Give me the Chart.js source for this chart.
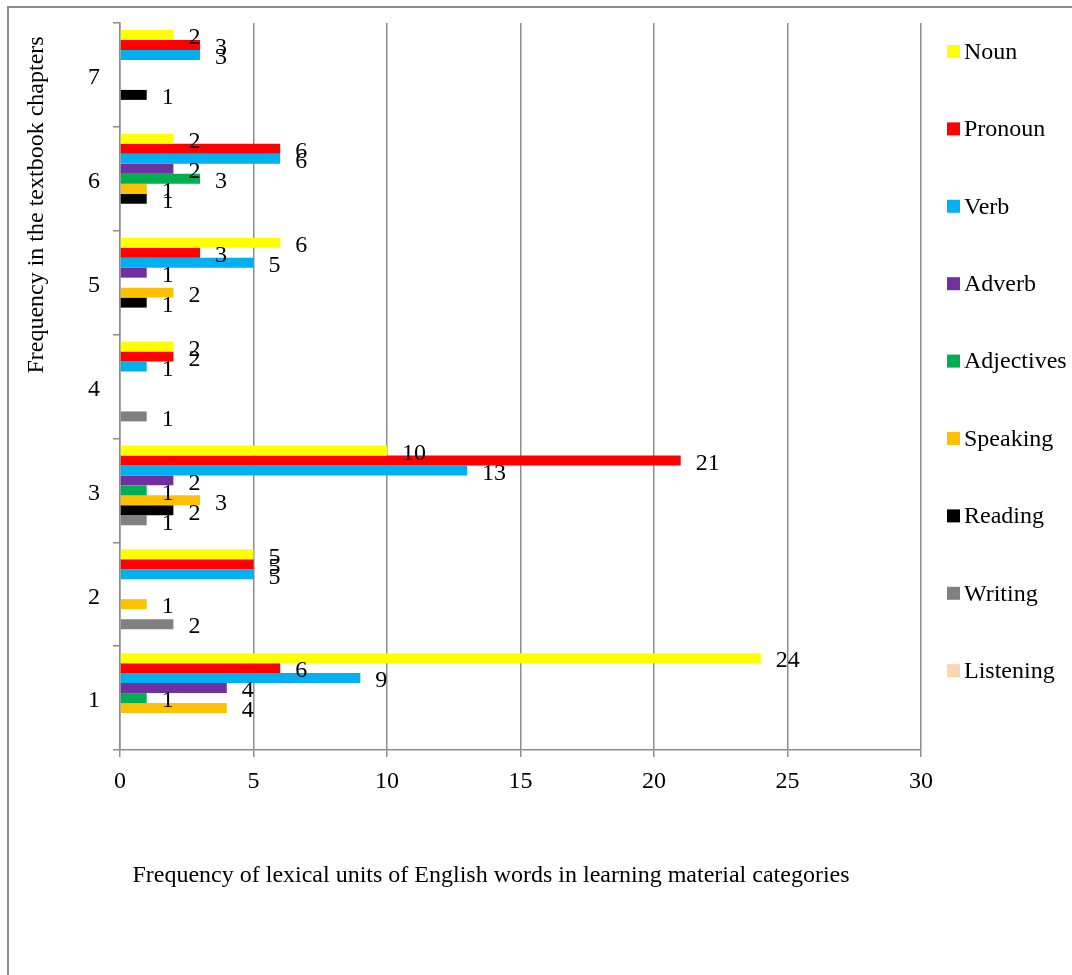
<!DOCTYPE html>
<html>
<head>
<meta charset="utf-8">
<script src="https://cdn.jsdelivr.net/npm/chart.js@4"></script>
<style>
  body { margin: 0; background: #fff; }
  canvas { display: block; }
</style>
</head>
<body>
<canvas id="chart" width="1072" height="975"></canvas>
<script>
// chapters listed bottom to top, as in the textbook
const chapters = ["1", "2", "3", "4", "5", "6", "7"];

// counts per chapter (chapter 1 .. chapter 7)
const noun       = [24, 5, 10, 2, 6, 2, 2];
const pronoun    = [6, 5, 21, 2, 3, 6, 3];
const verb       = [9, 5, 13, 1, 5, 6, 3];
const adverb     = [4, 0, 2, 0, 1, 2, 0];
const adjectives = [1, 0, 1, 0, 0, 3, 0];
const speaking   = [4, 1, 3, 0, 2, 1, 0];
const reading    = [0, 0, 2, 0, 1, 1, 1];
const writing    = [0, 2, 1, 1, 0, 0, 0];
const listening  = [0, 0, 0, 0, 0, 0, 0];

const xTicks = [0, 5, 10, 15, 20, 25, 30];

const xTitle = "Frequency of lexical units of English words in learning material categories";
const yTitle = "Frequency in the textbook chapters";

const FONT = "'Liberation Serif', 'Times New Roman', serif";
const GRID = "#8c8c8c";

const series = [
  { name: "Noun", data: noun, color: "#ffff00" },
  { name: "Pronoun", data: pronoun, color: "#ff0000" },
  { name: "Verb", data: verb, color: "#00b0f0" },
  { name: "Adverb", data: adverb, color: "#7030a0" },
  { name: "Adjectives", data: adjectives, color: "#00b050" },
  { name: "Speaking", data: speaking, color: "#ffc000" },
  { name: "Reading", data: reading, color: "#000000" },
  { name: "Writing", data: writing, color: "#808080" },
  { name: "Listening", data: listening, color: "#fbd4b4" },
];

// chapter 7 goes on top, so feed categories in reverse
const datasets = series.map((s) => ({
  label: s.name,
  data: s.data.slice().reverse(),
  backgroundColor: s.color,
  borderWidth: 0,
  categoryPercentage: 0.865,
  barPercentage: 1.0,
}));

// white page with the grey frame round it
const framePlugin = {
  id: "frame",
  beforeDraw(chart) {
    const ctx = chart.ctx;
    ctx.save();
    ctx.fillStyle = "#fff";
    ctx.fillRect(0, 0, chart.width, chart.height);
    ctx.strokeStyle = GRID;
    ctx.lineWidth = 2;
    ctx.strokeRect(8, 7, chart.width + 20, chart.height + 20);
    ctx.restore();
  },
};

// value next to the end of every non-zero bar
const valueLabels = {
  id: "valueLabels",
  afterDatasetsDraw(chart) {
    const ctx = chart.ctx;
    ctx.save();
    ctx.font = "24px " + FONT;
    ctx.fillStyle = "#000";
    ctx.textAlign = "left";
    ctx.textBaseline = "middle";
    chart.data.datasets.forEach((ds, i) => {
      const meta = chart.getDatasetMeta(i);
      meta.data.forEach((bar, j) => {
        const v = ds.data[j];
        if (!v) return;
        ctx.fillText(String(v), bar.x + 15, bar.y + 3);
      });
    });
    ctx.restore();
  },
};

// legend column on the right and the two axis titles
const sideTexts = {
  id: "sideTexts",
  afterDraw(chart) {
    const ctx = chart.ctx;
    ctx.save();
    ctx.font = "24px " + FONT;
    ctx.fillStyle = "#000";
    ctx.textBaseline = "middle";
    ctx.textAlign = "left";
    chart.data.datasets.forEach((ds, i) => {
      const y = 51.5 + i * 77.4;
      ctx.fillStyle = ds.backgroundColor;
      ctx.fillRect(947, y - 6.5, 13, 13);
      ctx.fillStyle = "#000";
      ctx.fillText(ds.label, 964, y + 1);
    });

    ctx.textAlign = "center";
    ctx.fillText(xTitle, 491, 876);

    ctx.translate(37, 205);
    ctx.rotate(-Math.PI / 2);
    ctx.fillText(yTitle, 0, 0);
    ctx.restore();
  },
};

new Chart(document.getElementById("chart"), {
  type: "bar",
  data: {
    labels: chapters.slice().reverse(),
    datasets: datasets,
  },
  plugins: [framePlugin, valueLabels, sideTexts],
  options: {
    indexAxis: "y",
    responsive: false,
    animation: false,
    devicePixelRatio: 1,
    layout: { padding: { left: 0, top: 23, right: 151, bottom: 0 } },
    plugins: {
      legend: { display: false },
      tooltip: { enabled: false },
    },
    scales: {
      x: {
        type: "linear",
        min: 0,
        max: 30,
        afterBuildTicks: (scale) => {
          scale.ticks = xTicks.map((v) => ({ value: v }));
        },
        afterFit: (scale) => {
          scale.height = 225;
          scale.paddingLeft = 0;
          scale.paddingRight = 0;
        },
        ticks: {
          font: { family: FONT, size: 24 },
          color: "#000",
          padding: 10,
        },
        grid: { color: GRID, lineWidth: 1.5, tickLength: 7 },
        border: { color: GRID, width: 1.5 },
      },
      y: {
        type: "category",
        afterFit: (scale) => {
          scale.width = 120;
          scale.paddingTop = 0;
          scale.paddingBottom = 0;
        },
        ticks: {
          font: { family: FONT, size: 24 },
          color: "#000",
          padding: 13,
          labelOffset: 3,
        },
        grid: {
          offset: true,
          drawOnChartArea: false,
          color: GRID,
          lineWidth: 1.5,
          tickLength: 7,
        },
        border: { color: GRID, width: 1.5 },
      },
    },
  },
});
</script>
</body>
</html>
